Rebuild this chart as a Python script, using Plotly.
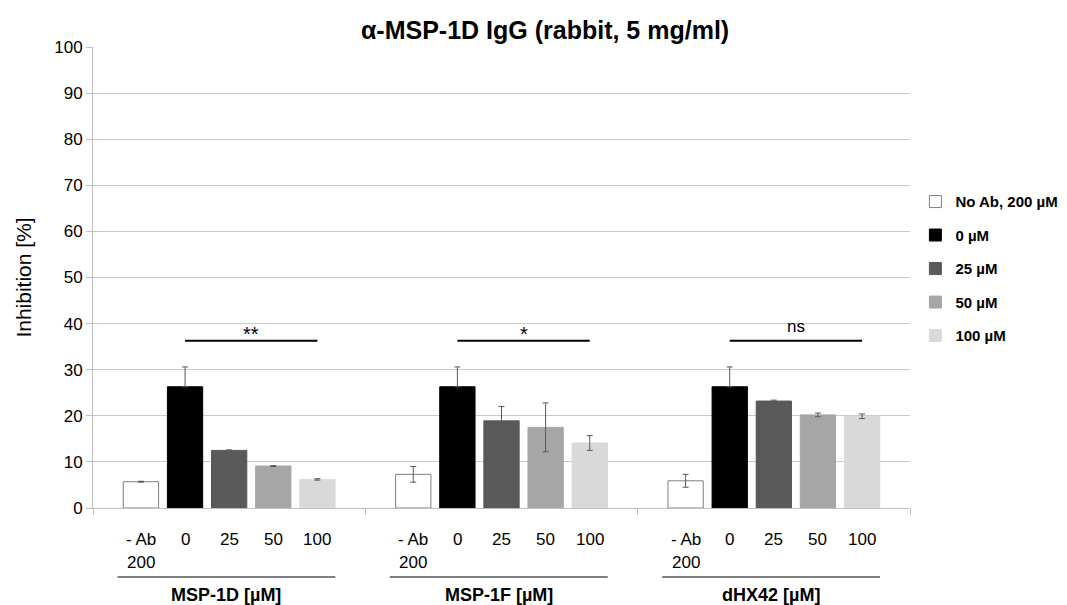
import plotly.graph_objects as go

groups = ["MSP-1D [µM]", "MSP-1F [µM]", "dHX42 [µM]"]
series_names = ["No Ab, 200 µM", "0 µM", "25 µM", "50 µM", "100 µM"]
bar_labels = [["- Ab", "200"], ["0"], ["25"], ["50"], ["100"]]

values = [
    [5.7, 7.3, 5.9],
    [26.3, 26.3, 26.3],
    [12.5, 18.9, 23.2],
    [9.1, 17.5, 20.2],
    [6.2, 14.1, 19.9],
]
errors = [
    [0.1, 1.7, 1.4],
    [4.3, 4.3, 4.3],
    [0.1, 3.1, 0.2],
    [0.1, 5.3, 0.4],
    [0.15, 1.6, 0.5],
]
# the lower half of the black bars' error bars is hidden in the reference
plus_only = [False, True, False, False, False]
sig_labels = ["**", "*", "ns"]
sig_level = 36.3

fills = ["#ffffff", "#000000", "#595959", "#a6a6a6", "#d9d9d9"]
outlines = ["#7f7f7f", "#000000", "#595959", "#a6a6a6", "#d9d9d9"]

bargap = 0.19
n = len(series_names)
slot = (1 - bargap) / n

fig = go.Figure()
for j, name in enumerate(series_names):
    err = dict(type="data", array=errors[j], visible=True,
               color="#595959", thickness=1, width=3)
    if plus_only[j]:
        err.update(symmetric=False, arrayminus=[0] * len(errors[j]))
    fig.add_trace(go.Bar(
        x=groups, y=values[j], name=name,
        marker=dict(color=fills[j], line=dict(color=outlines[j], width=1)),
        error_y=err,
        legendgroup=f"g{j}",
    ))

annotations = []
shapes = []
font = "Liberation Sans, Arial, sans-serif"
for i, g in enumerate(groups):
    for j, lines in enumerate(bar_labels):
        for k, lab in enumerate(lines):
            annotations.append(dict(
                x=i + (j - (n - 1) / 2) * slot, y=0, xref="x", yref="paper",
                text=lab, showarrow=False, yanchor="middle", yshift=-31 - 23 * k,
                font=dict(family=font, size=17, color="#000")))
    annotations.append(dict(
        x=i - 0.01, y=0, xref="x", yref="paper", text=f"<b>{g}</b>",
        showarrow=False, yanchor="middle", yshift=-87,
        font=dict(family=font, size=18, color="#000")))
    shapes.append(dict(type="line", xref="x", yref="paper",
                       x0=i - 0.41, x1=i + 0.39, y0=-69 / 461, y1=-69 / 461,
                       line=dict(color="#000", width=1)))
    # significance bar from "0" bar to "100" bar
    x0 = i + (1 - (n - 1) / 2) * slot
    x1 = i + (4 - (n - 1) / 2) * slot
    shapes.append(dict(type="line", xref="x", yref="y", x0=x0, x1=x1,
                       y0=sig_level, y1=sig_level,
                       line=dict(color="#000", width=2)))
    is_ns = sig_labels[i] == "ns"
    annotations.append(dict(
        x=(x0 + x1) / 2, y=sig_level, xref="x", yref="y", text=sig_labels[i],
        showarrow=False, yanchor="bottom", yshift=3 if is_ns else -6,
        font=dict(family=font, size=17 if is_ns else 20, color="#000")))

annotations.append(dict(
    x=(545 - 93) / (910 - 93), y=1, xref="paper", yref="paper", xanchor="center",
    text="<b>α-MSP-1D IgG (rabbit, 5 mg/ml)</b>", showarrow=False,
    yanchor="middle", yshift=17, font=dict(family=font, size=25, color="#000")))

fig.update_layout(
    width=1067, height=605,
    margin=dict(l=93, r=157, t=47, b=97, autoexpand=False),
    paper_bgcolor="white", plot_bgcolor="white",
    barmode="group", bargap=bargap, bargroupgap=0.2,
    font=dict(family=font, size=16, color="#000"),
    showlegend=True,
    legend=dict(x=1.0066, xanchor="left", y=0.70, yanchor="top",
                font=dict(family=font, size=15, color="#000", weight="bold"),
                traceorder="grouped", tracegroupgap=11, itemwidth=30,
                bgcolor="rgba(0,0,0,0)"),
    annotations=annotations,
    shapes=shapes,
)
fig.update_xaxes(type="category", showticklabels=False, showline=True,
                 linecolor="#bfbfbf", linewidth=1, ticks="outside",
                 tickson="boundaries", ticklen=6, tickcolor="#bfbfbf",
                 showgrid=False, range=[-0.5, 2.5], automargin=False)
fig.update_yaxes(range=[0, 100], dtick=10, showgrid=True, gridcolor="#c8c8c8",
                 gridwidth=1, showline=True, linecolor="#bfbfbf", linewidth=1,
                 ticks="outside", ticklen=6, tickcolor="#bfbfbf", zeroline=False,
                 tickfont=dict(family=font, size=17), automargin=False,
                 title=dict(text="Inhibition [%]", font=dict(family=font, size=21),
                            standoff=16))

fig.write_html("out.html", config={"displayModeBar": False},
               post_script="document.body.style.margin='0';")
